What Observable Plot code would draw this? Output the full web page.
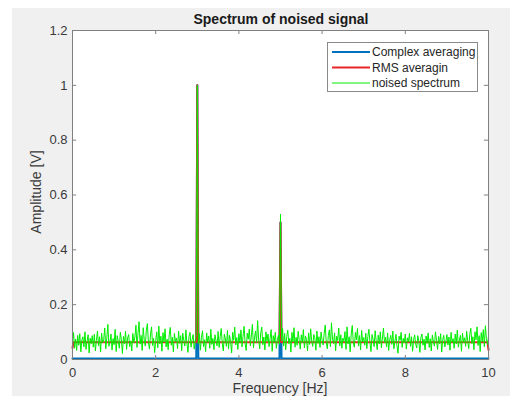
<!DOCTYPE html>
<html><head><meta charset="utf-8">
<script src="https://cdn.jsdelivr.net/npm/d3@7"></script>
<script src="https://cdn.jsdelivr.net/npm/@observablehq/plot@0.6"></script>
<style>
body{margin:0;background:#fff;}
#wrap{position:relative;width:510px;height:396px;overflow:hidden;background:#fff;}
#bg{position:absolute;left:12px;top:8px;right:0;bottom:0;background:#f0f0f0;}
#chart{position:absolute;left:0;top:0;}
</style></head>
<body><div id="wrap"><div id="bg"></div><div id="chart"></div></div>
<script>
// ---- data ----
const titleText = "Spectrum of noised signal";
const xLabel = "Frequency [Hz]";
const yLabel = "Amplitude [V]";
const seriesNames = ["Complex averaging", "RMS averagin", "noised spectrum"];
const seriesColors = ["#0072BD", "#e8262a", "#00ee00"];
const xTicks = [0, 2, 4, 6, 8, 10];
const yTicks = [0, 0.2, 0.4, 0.6, 0.8, 1, 1.2];

// noised spectrum: frequency grid 0..10 Hz, step 0.025 Hz
const noiseStep = 0.025;
const noiseValues = [
.062,.098,.041,.075,.033,.088,.052,.094,.028,.071,.083,.046,.101,.037,.066,.090,.024,.078,.058,.087,
.045,.092,.031,.069,.104,.050,.083,.027,.096,.061,.072,.115,.039,.080,.128,.048,.064,.093,.035,.076,
.054,.110,.029,.087,.066,.041,.099,.073,.022,.084,.058,.103,.037,.079,.091,.047,.068,.031,.095,.060,
.082,.125,.044,.097,.138,.056,.088,.033,.116,.071,.049,.107,.131,.062,.038,.093,.119,.051,.077,.025,
.069,.101,.043,.122,.057,.085,.030,.098,.064,.112,.046,.074,.036,.090,.117,.052,.081,.028,.095,.066,
.078,.040,.103,.059,.087,.032,.096,.070,.049,.108,.061,.026,.084,.099,.045,.073,.091,.038,.067,.085,
1.0,
.058,.094,.034,.081,.105,.047,.072,.029,.097,.063,.086,.041,.110,.055,.077,.036,.090,.068,.050,.102,
.044,.083,.113,.060,.031,.092,.075,.048,.106,.039,.088,.065,.024,.099,.070,.118,.053,.080,.037,.094,
.062,.108,.046,.085,.121,.057,.033,.096,.074,.111,.050,.089,.128,.043,.079,.104,.060,.142,.071,.039,
.097,.118,.054,.082,.035,.101,.066,.093,.047,.076,.109,.030,.087,.063,.099,.041,.072,.088,.056,
0.53,
.068,.113,.049,.095,.036,.084,.107,.058,.077,.027,.099,.064,.116,.045,.081,.052,.103,.070,.038,.090,
.061,.109,.042,.086,.073,.031,.097,.055,.112,.067,.048,.091,.079,.034,.104,.059,.083,.044,.100,.071,
.053,.094,.126,.062,.039,.088,.108,.047,.134,.075,.058,.097,.032,.085,.069,.115,.050,.090,.041,.078,
.066,.102,.037,.119,.057,.083,.028,.093,.124,.061,.045,.099,.072,.113,.049,.087,.035,.106,.064,.080,
.052,.096,.040,.084,.110,.063,.029,.091,.074,.047,.105,.068,.036,.089,.057,.101,.043,.078,.115,.060,
.081,.046,.097,.033,.072,.088,.055,.104,.039,.066,.092,.050,.023,.085,.070,.099,.044,.077,.061,.093,
.038,.079,.064,.095,.048,.083,.030,.071,.090,.056,.042,.087,.067,.026,.080,.093,.052,.074,.035,.086,
.059,.097,.044,.076,.031,.089,.065,.049,.101,.070,.037,.084,.058,.094,.027,.073,.088,.046,.066,.091,
.053,.082,.034,.099,.063,.076,.041,.093,.057,.107,.045,.071,.088,.030,.096,.062,.079,.048,.103,.068,
.040,.092,.114,.058,.083,.036,.101,.072,.119,.051,.087,.029,.098,.065,.109,.047,.123,.076,.055,.084
];

// RMS averaging (breakpoints)
const rmsFreq  = [0, 0.025, 2.975, 3, 3.025, 4.975, 5, 5.025, 9.975, 10];
const rmsValue = [0.042, 0.063, 0.063, 1.0, 0.063, 0.063, 0.5, 0.063, 0.063, 0.035];

// Complex averaging (breakpoints)
const cplxFreq  = [0, 2.975, 3, 3.025, 4.975, 5, 5.025, 10];
const cplxValue = [0.004, 0.004, 1.0, 0.004, 0.004, 0.5, 0.004, 0.004];

// ---- tables ----
const noise = noiseValues.map((v, i) => ({f: i * noiseStep, v}));
const rms = rmsFreq.map((f, i) => ({f, v: rmsValue[i]}));
const cplx = cplxFreq.map((f, i) => ({f, v: cplxValue[i]}));

const W = 510, H = 396;
const mL = 72, mR = 22, mT = 30, mB = 37;
const axisColor = "#808080";
const tx = 0.1, ty = 0.0146;

const plot = Plot.plot({
  width: W, height: H,
  marginLeft: mL, marginRight: mR, marginTop: mT, marginBottom: mB,
  style: {background: "transparent", fontFamily: "'Liberation Sans', Arial, sans-serif", fontSize: "13px", color: "#3a3a3a"},
  x: {domain: [0, 10], label: null},
  y: {domain: [0, 1.2], label: null},
  marks: [
    Plot.frame({fill: "white", stroke: null}),
    Plot.line(cplx, {x: "f", y: "v", stroke: seriesColors[0], strokeWidth: 2}),
    Plot.line(rms, {x: "f", y: "v", stroke: seriesColors[1], strokeWidth: 2}),
    Plot.line(noise, {x: "f", y: "v", stroke: seriesColors[2], strokeWidth: 1}),
    Plot.frame({stroke: axisColor, strokeWidth: 1}),
    Plot.ruleX(xTicks, {y1: 0, y2: ty, stroke: axisColor}),
    Plot.ruleX(xTicks, {y1: 1.2 - ty, y2: 1.2, stroke: axisColor}),
    Plot.ruleY(yTicks, {x1: 0, x2: tx, stroke: axisColor}),
    Plot.ruleY(yTicks, {x1: 10 - tx, x2: 10, stroke: axisColor}),
    Plot.axisX({ticks: xTicks, tickSize: 0, tickPadding: 8, tickFormat: d => String(d), fontSize: 13}),
    Plot.axisY({ticks: yTicks, tickSize: 0, tickPadding: 5, tickFormat: d => String(d), fontSize: 13})
  ]
});
document.getElementById("chart").appendChild(plot);

const svg = d3.select(plot);
const ff = "'Liberation Sans', Arial, sans-serif";
svg.append("text").attr("x", 281).attr("y", 24).attr("text-anchor", "middle")
  .attr("font-family", ff).attr("font-size", 14).attr("font-weight", "bold").attr("fill", "#1a1a1a").text(titleText);
svg.append("text").attr("x", 280).attr("y", 393).attr("text-anchor", "middle")
  .attr("font-family", ff).attr("font-size", 14).attr("fill", "#3a3a3a").text(xLabel);
svg.append("text").attr("transform", "translate(41,192) rotate(-90)").attr("text-anchor", "middle")
  .attr("font-family", ff).attr("font-size", 14).attr("fill", "#3a3a3a").text(yLabel);

// legend
const lg = svg.append("g").attr("text-anchor", "start");
lg.append("rect").attr("x", 327.5).attr("y", 42.5).attr("width", 150).attr("height", 49)
  .attr("fill", "white").attr("stroke", "#8a8a8a");
const rowsY = [52, 67.5, 83];
const lw = [2, 2, 1];
seriesNames.forEach((name, i) => {
  lg.append("line").attr("x1", 332).attr("x2", 370).attr("y1", rowsY[i]).attr("y2", rowsY[i])
    .attr("stroke", seriesColors[i]).attr("stroke-width", lw[i]);
  lg.append("text").attr("x", 372).attr("y", rowsY[i] + 4.3).attr("text-anchor", "start")
    .attr("font-family", ff).attr("font-size", 12).attr("fill", "#262626").text(name);
});
</script>
</body></html>
